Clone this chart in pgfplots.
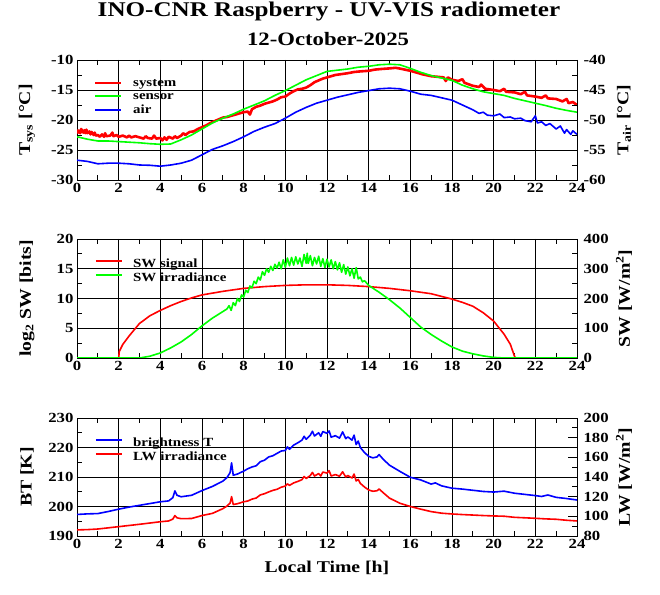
\documentclass[border=0pt]{standalone}
\usepackage{fontspec}
\setmainfont{Liberation Serif}[FakeStretch=1.2]
\usepackage{pgfplots}
\usepackage{pgfplotstable}
\pgfplotsset{compat=1.18}
\newcommand\ticfont{\fontsize{14}{14}\selectfont\bfseries}
\newcommand\labfont{\fontsize{16.5}{16.5}\selectfont\bfseries}
\newcommand\legfont{\fontsize{12.5}{12.5}\selectfont\bfseries}

% Panel 1: system (red), sensor (green) on left axis; air (blue) on right axis
\pgfplotstableread{
h T
0 -21.6
0.05 -22.1
0.1 -21.8
0.15 -22.2
0.2 -21.5
0.3 -22.1
0.35 -21.7
0.4 -22.2
0.45 -21.6
0.5 -22.2
0.6 -21.9
0.65 -22.4
0.7 -22.0
0.8 -22.5
0.85 -22.1
0.9 -22.6
1.0 -22.5
1.1 -22.8
1.2 -22.4
1.3 -22.8
1.35 -22.2
1.4 -22.7
1.6 -22.6
1.7 -22.1
1.75 -22.7
1.9 -22.5
2.0 -22.8
2.2 -22.6
2.4 -22.9
2.5 -22.6
2.6 -22.9
2.8 -22.7
3.0 -22.9
3.2 -23.1
3.3 -22.7
3.4 -23.0
3.6 -23.1
3.7 -22.6
3.8 -23.1
4.0 -23.0
4.1 -23.4
4.2 -22.9
4.3 -23.3
4.4 -22.8
4.6 -23.1
4.7 -22.7
4.8 -23.0
5.0 -22.6
5.1 -22.2
5.2 -22.5
5.4 -22.0
5.6 -21.9
5.8 -21.5
6.0 -21.2
6.2 -20.9
6.4 -20.5
6.6 -20.2
6.8 -19.9
7.0 -19.6
7.2 -19.5
7.4 -19.3
7.6 -19.1
7.8 -18.9
8.0 -18.7
8.2 -18.6
8.3 -19.1
8.4 -18.2
8.6 -17.8
8.8 -17.6
9.0 -17.3
9.2 -17.1
9.4 -16.9
9.6 -16.6
9.8 -16.2
10.0 -16.1
10.2 -15.6
10.4 -15.2
10.6 -14.9
10.8 -14.8
11.0 -14.6
11.2 -14.2
11.4 -13.7
11.6 -13.4
11.8 -13.1
12.0 -12.9
12.2 -12.7
12.4 -12.5
12.6 -12.4
12.8 -12.3
13.0 -12.2
13.3 -12.0
13.6 -11.9
14.0 -11.8
14.3 -11.6
14.6 -11.5
15.0 -11.4
15.3 -11.3
15.6 -11.5
16.0 -11.8
16.3 -12.1
16.6 -12.4
17.0 -12.7
17.3 -12.8
17.6 -12.9
17.7 -13.5
17.8 -12.9
18.0 -13.3
18.3 -13.5
18.5 -13.2
18.6 -13.8
19.0 -14.3
19.3 -14.5
19.4 -14.1
19.6 -14.8
20.0 -15.0
20.3 -15.2
20.5 -14.8
20.6 -15.3
21.0 -15.4
21.3 -15.7
21.5 -15.3
21.6 -15.9
22.0 -16.1
22.3 -16.3
22.5 -15.9
22.6 -16.4
23.0 -16.5
23.3 -16.9
23.5 -16.5
23.6 -17.2
23.8 -17.0
24.0 -17.5
}\systemT

\pgfplotstableread{
h T
0 -22.8
0.5 -23.2
1 -23.5
1.5 -23.5
2 -23.6
2.5 -23.7
3 -23.8
3.5 -23.95
4 -24.05
4.5 -24.0
5 -23.3
5.5 -22.5
6 -21.5
6.5 -20.5
7 -19.7
7.5 -19.0
8 -18.2
8.5 -17.5
9 -16.8
9.5 -15.9
10 -15.1
10.5 -14.2
11 -13.3
11.5 -12.6
12 -11.9
12.5 -11.7
13 -11.5
13.5 -11.2
14 -11.05
14.5 -10.8
15 -10.7
15.5 -10.8
16 -11.4
16.5 -12.05
17 -12.6
17.5 -13.0
18 -13.4
18.5 -14.2
19 -14.8
19.5 -15.3
20 -15.6
20.5 -15.9
21 -16.4
21.5 -16.8
22 -17.2
22.5 -17.6
23 -18.05
23.5 -18.4
24 -18.7
}\sensorT

\pgfplotstableread{
h T
0 -56.7
0.5 -56.9
1 -57.3
1.5 -57.2
2 -57.2
2.5 -57.3
3 -57.5
3.5 -57.55
4 -57.7
4.5 -57.5
5 -57.2
5.5 -56.7
6 -55.8
6.5 -54.9
7 -54.3
7.5 -53.6
8 -52.8
8.5 -51.9
9 -51.2
9.5 -50.6
10 -49.7
10.5 -48.7
11 -47.9
11.5 -47.2
12 -46.7
12.5 -46.2
13 -45.8
13.5 -45.4
14 -45.1
14.5 -44.8
15 -44.7
15.5 -44.8
16 -45.2
16.5 -45.7
17 -45.9
17.5 -46.3
18 -46.7
18.5 -47.5
19 -48.3
19.3 -48.9
19.5 -48.7
19.7 -49.2
20 -49.3
20.3 -49.0
20.5 -49.6
20.8 -49.5
21 -49.8
21.3 -49.7
21.5 -50.1
21.8 -50.3
22 -49.3
22.1 -50.5
22.3 -50.3
22.5 -50.9
22.7 -50.6
23 -51.5
23.2 -51.0
23.4 -52.2
23.5 -51.6
23.7 -52.4
23.8 -51.8
24 -52.4
}\airT

% Panel 2
\pgfplotstableread{
h b
0 0
1.98 0
2.0 0
2.03 1.1
2.2 2.3
2.5 3.7
3 5.8
3.5 7.1
4 8.0
4.5 8.8
5 9.5
5.5 10.1
6 10.6
7 11.2
8 11.7
9 12.0
10 12.2
11 12.3
12 12.3
13 12.2
14 12.0
15 11.7
16 11.3
17 10.8
18 9.9
18.5 9.35
19 8.7
19.5 7.6
20 6.2
20.5 4.0
20.8 2.3
21 0.3
21.05 0
24 0
}\swsignal

\pgfplotstableread{
h w
0 0
3 0
3.5 6
4 17
4.5 34
5 54
5.5 79
6 108
6.5 134
7 156
7.2 165
7.3 176
7.4 160
7.5 186
7.6 176
7.7 200
7.8 190
7.9 212
8.0 205
8.1 228
8.2 220
8.3 242
8.4 236
8.5 258
8.6 250
8.7 272
8.8 262
8.9 290
9.0 278
9.1 300
9.2 288
9.3 308
9.4 294
9.5 315
9.6 302
9.7 322
9.8 300
9.9 330
10.0 305
10.1 336
10.2 310
10.3 338
10.4 312
10.5 340
10.6 316
10.7 336
10.8 308
10.9 348
11.0 318
11.05 352
11.1 318
11.2 344
11.3 310
11.4 338
11.5 316
11.6 342
11.7 308
11.8 334
11.9 304
12.0 332
12.1 306
12.2 330
12.3 300
12.4 324
12.5 296
12.6 320
12.7 288
12.8 314
12.9 282
13.0 306
13.1 276
13.2 300
13.3 268
13.4 304
13.5 266
13.6 272
13.7 256
13.8 260
14.0 244
14.5 221
15 196
15.5 168
16 136
16.5 104
17 79
17.5 57
18 37
18.5 23
19 14
19.5 7
20 2
20.5 0
24 0
}\swirr

% Panel 3
\pgfplotstableread{
h t
0 197.3
0.5 197.5
1 197.6
1.5 198.3
2 199.1
2.5 199.8
3 200.4
3.5 201.0
4 201.6
4.4 201.9
4.6 203.0
4.7 205.3
4.8 203.8
5.0 203.3
5.5 203.8
6 205.4
6.5 206.8
7 208.6
7.2 209.8
7.35 211.5
7.42 214.8
7.5 210.6
7.7 211.0
8.0 212.0
8.2 212.8
8.4 213.4
8.6 213.8
8.8 215.2
9.0 215.7
9.2 216.8
9.4 217.2
9.6 218.0
9.8 218.8
10.0 219.0
10.1 220.2
10.2 219.4
10.4 220.8
10.6 221.6
10.8 222.5
10.9 223.8
11.0 222.8
11.2 224.2
11.3 225.5
11.4 223.9
11.6 225.0
11.7 223.8
11.8 225.4
12.0 224.8
12.1 225.6
12.2 223.5
12.4 224.0
12.6 223.2
12.75 225.3
12.9 223.0
13.0 223.6
13.2 222.5
13.3 224.2
13.4 221.0
13.5 222.2
13.6 220.0
13.8 218.3
14.0 217.0
14.2 216.5
14.4 216.8
14.5 217.6
14.7 216.0
15.0 214.0
15.5 211.9
16 209.9
16.5 209.0
17 207.6
17.2 208.0
17.5 207.0
18 206.2
18.5 205.9
19 205.5
19.5 205.1
20 204.9
20.5 205.2
21 204.5
21.5 204.1
22 203.7
22.3 203.4
22.6 203.9
23 203.1
23.5 202.7
24 202.2
}\btemp

\pgfplotstableread{
h l
0 86.2
0.5 86.5
1 87.1
1.5 88.3
2 89.5
2.5 90.7
3 91.9
3.5 93.2
4 94.5
4.4 95.3
4.6 97.2
4.7 100.8
4.8 98.5
5 97.6
5.5 97.8
6 100.8
6.5 103.0
7 107.8
7.2 110.5
7.35 113.5
7.42 120.0
7.5 112.0
7.7 112.8
8.0 114.8
8.2 115.6
8.4 117.5
8.6 118.6
8.8 121.8
9.0 123.0
9.2 124.8
9.4 126.4
9.6 127.5
9.8 129.6
10.0 130.8
10.1 133.0
10.2 131.5
10.4 134.0
10.6 135.5
10.8 137.3
10.9 140.5
11.0 138.5
11.2 141.5
11.3 144.7
11.4 141.0
11.6 143.5
11.7 141.0
11.8 145.0
12.0 144.0
12.1 146.5
12.2 141.0
12.4 142.5
12.6 140.8
12.75 145.3
12.9 140.0
13.0 141.5
13.2 139.0
13.3 143.0
13.4 136.0
13.5 137.5
13.6 133.5
13.8 129.8
14.0 126.8
14.2 125.5
14.4 126.0
14.5 127.8
14.7 124.0
15 118.5
15.5 113.3
16 110.0
16.5 107.3
17 104.8
17.5 103.2
18 102.4
18.5 101.8
19 101.3
19.5 100.8
20 100.4
20.5 100.1
21 99.0
21.5 98.5
22 98.0
22.5 97.4
23 97.0
23.5 96.0
24 95.3
}\lwirr

\pgfplotsset{
  panel/.style={
    width=500bp, scale only axis,
    xmin=0, xmax=24, xtick={0,2,...,24}, minor x tick num=1, minor y tick num=1,
    tick align=inside, major tick length=9bp, minor tick length=5bp,
    every tick/.style={black, line width=0.8bp},
    axis line style={black, line width=0.9bp},
    ticklabel style={font=\ticfont},
    /pgf/number format/assume math mode=true,
    label style={font=\labfont},
  },
  leftax/.style={panel, grid=major, major grid style={black, line width=0.8bp},
    ytick pos=left,
    ylabel style={at={(axis description cs:-0.1,0.5)}, anchor=center},
    legend style={draw=none, fill=none, inner sep=0pt, outer sep=0pt, font=\legfont,
      anchor=north west, legend cell align=left, column sep=10bp,
      nodes={text height=9.5bp, text depth=3.5bp, inner sep=0.5bp}},
  },
  rightax/.style={panel, hide x axis, axis y line*=right, tick align=inside,
    ytick pos=right, yticklabel pos=right,
    yticklabel style={xshift=3bp},
    ylabel style={at={(axis description cs:1.094,0.5)}, anchor=center},
  },
}

\begin{document}
\bfseries
\begin{tikzpicture}
\path[use as bounding box] (0bp,0bp) rectangle (660bp,595bp);
\node[anchor=base, font=\fontsize{21}{21}\selectfont\bfseries] at (329bp,578bp) {INO-CNR Raspberry - UV-VIS radiometer};
\node[anchor=base, font=\fontsize{19}{19}\selectfont\bfseries] at (328bp,549bp) {12-October-2025};

% ---------- Panel 1 ----------
\begin{axis}[leftax, name=a1, at={(77bp,415bp)}, anchor=south west, height=120bp,
  ymin=-30, ymax=-10, ytick={-30,-25,...,-10},
  ylabel={T\textsubscript{sys} [°C]}]
\addplot[red, line width=2.6bp, line join=round, forget plot] table[x=h,y=T] {\systemT};
\addplot[green, line width=1.6bp, line join=round, forget plot] table[x=h,y=T] {\sensorT};
\end{axis}
\begin{axis}[rightax, at={(a1.south west)}, anchor=south west, height=120bp,
  ymin=-60, ymax=-40, ytick={-60,-55,...,-40},
  ylabel={T\textsubscript{air} [°C]}]
\addplot[blue, line width=1.6bp, line join=round, forget plot] table[x=h,y=T] {\airT};
\end{axis}
% legend of panel 1
\draw[red, line width=1.6bp] (95bp,512bp) -- (121bp,512bp);
\draw[green, line width=1.6bp] (95bp,499bp) -- (121bp,499bp);
\draw[blue, line width=1.6bp] (95bp,485bp) -- (121bp,485bp);
\node[anchor=base west, inner sep=0pt, font=\legfont] at (133bp,508bp) {system};
\node[anchor=base west, inner sep=0pt, font=\legfont] at (133bp,495bp) {sensor};
\node[anchor=base west, inner sep=0pt, font=\legfont] at (133bp,481bp) {air};

% ---------- Panel 2 ----------
\begin{axis}[leftax, name=a2, at={(77bp,237bp)}, anchor=south west, height=119bp,
  ymin=0, ymax=20, ytick={0,5,...,20},
  ylabel={log\textsubscript{2} SW [bits]},
  legend image code/.code={\draw[#1] (0bp,3.5bp) -- (26bp,3.5bp);},
  legend style={at={(rel axis cs:0.036,0.845)}}]
\addlegendimage{red, line width=1.6bp}
\addlegendentry{SW signal}
\addlegendimage{green, line width=1.6bp}
\addlegendentry{SW irradiance}
\addplot[red, line width=1.6bp, line join=round, forget plot] table[x=h,y=b] {\swsignal};
\end{axis}
\begin{axis}[rightax, at={(a2.south west)}, anchor=south west, height=119bp,
  ymin=0, ymax=400, ytick={0,100,...,400},
  ylabel={SW [W/m\textsuperscript{2}]}]
\addplot[green, line width=1.6bp, line join=round] table[x=h,y=w] {\swirr};
\end{axis}

% ---------- Panel 3 ----------
\begin{axis}[leftax, name=a3, at={(77bp,59bp)}, anchor=south west, height=118bp,
  ymin=190, ymax=230, ytick={190,200,...,230},
  ylabel={BT [K]},
  xlabel={Local Time [h]},
  xlabel style={at={(axis description cs:0.5,-0.27)}, anchor=center},
  legend image code/.code={\draw[#1] (0bp,3.5bp) -- (26bp,3.5bp);},
  legend style={at={(rel axis cs:0.036,0.845)}}]
\addlegendimage{blue, line width=1.6bp}
\addlegendentry{brightness T}
\addlegendimage{red, line width=1.6bp}
\addlegendentry{LW irradiance}
\addplot[blue, line width=1.6bp, line join=round, forget plot] table[x=h,y=t] {\btemp};
\end{axis}
\begin{axis}[rightax, at={(a3.south west)}, anchor=south west, height=118bp,
  ymin=80, ymax=200, ytick={80,100,...,200},
  ylabel={LW [W/m\textsuperscript{2}]}]
\addplot[red, line width=1.6bp, line join=round] table[x=h,y=l] {\lwirr};
\end{axis}
\end{tikzpicture}
\end{document}
